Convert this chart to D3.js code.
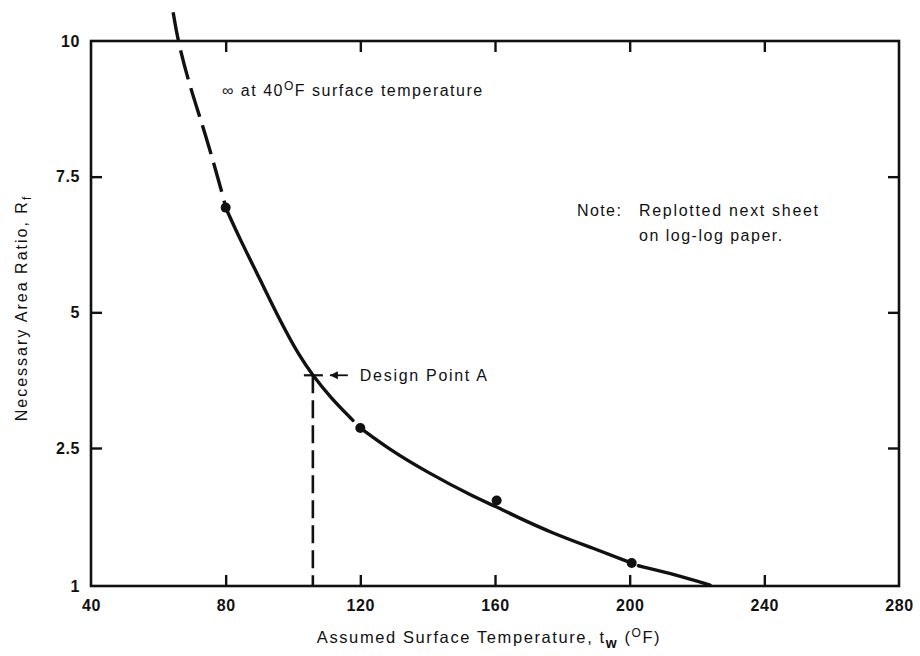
<!DOCTYPE html>
<html>
<head>
<meta charset="utf-8">
<script src="https://cdn.jsdelivr.net/npm/d3@7"></script>
<style>
  body { margin: 0; background: #fff; }
  svg { display: block; }
  text { font-family: "Liberation Sans", Arial, Helvetica, sans-serif; fill: #111; }
</style>
</head>
<body>
<svg id="chart" width="920" height="656"></svg>
<script>
// ---- Data ----
const xTicks = [40, 80, 120, 160, 200, 240, 280];
const yTicks = [1, 2.5, 5, 7.5, 10];
const yTickLabels = ["1", "2.5", "5", "7.5", "10"];

// dashed extrapolation above 80 F
const dashTemps  = [64.4, 65.8, 69.4, 73.9, 79.5, 80];
const dashRatios = [10.53, 10.0, 9.15, 8.31, 7.08, 6.93];

// solid curve, 80 F -> just before 120 F
const curve1Temps  = [80, 84.3, 90.2, 96.1, 102.1, 105.9, 111, 117.8];
const curve1Ratios = [6.93, 6.34, 5.61, 4.85, 4.17, 3.84, 3.44, 3.01];

// solid curve, 120 F -> 200 F
const curve2Temps  = [120, 128.8, 139.7, 153.6, 160.5, 165.4, 177.3, 189.2, 200.6];
const curve2Ratios = [2.87, 2.48, 2.24, 1.97, 1.86, 1.77, 1.57, 1.41, 1.25];

// final segment beyond 200 F
const curve3Temps  = [202.6, 214, 223.9];
const curve3Ratios = [1.22, 1.12, 1.01];

// plotted data points
const pointTemps  = [80, 120, 160.5, 200.6];
const pointRatios = [6.93, 2.87, 1.93, 1.25];

// design point A
const designTemp = 105.9;
const designRatio = 3.84;

// ---- Layout ----
const svg = d3.select("#chart");
const mLeft = 91, mRight = 899, mTop = 41, mBottom = 586;

const x = d3.scaleLinear().domain([40, 280]).range([mLeft, mRight]);
const y = d3.scaleLinear().domain([1, 2.5, 10]).range([mBottom, 448, mTop]);

const ink = "#111";

// frame
svg.append("rect")
  .attr("x", mLeft).attr("y", mTop)
  .attr("width", mRight - mLeft).attr("height", mBottom - mTop)
  .attr("fill", "none").attr("stroke", ink).attr("stroke-width", 2.6);

// axes (ticks pointing inward)
const gx = svg.append("g").attr("transform", `translate(0,${mBottom})`)
  .call(d3.axisBottom(x).tickValues(xTicks).tickSizeInner(-11).tickSizeOuter(0).tickPadding(11).tickFormat(d3.format("d")));
const gxt = svg.append("g").attr("transform", `translate(0,${mTop})`)
  .call(d3.axisTop(x).tickValues(xTicks.slice(1, -1)).tickSizeInner(-11).tickSizeOuter(0).tickFormat(""));
const gy = svg.append("g").attr("transform", `translate(${mLeft},0)`)
  .call(d3.axisLeft(y).tickValues(yTicks).tickSizeInner(-11).tickSizeOuter(0).tickPadding(11)
    .tickFormat((d, i) => yTickLabels[i]));
const gyr = svg.append("g").attr("transform", `translate(${mRight},0)`)
  .call(d3.axisRight(y).tickValues(yTicks.slice(1, -1)).tickSizeInner(-11).tickSizeOuter(0).tickFormat(""));

[gx, gxt, gy, gyr].forEach(g => {
  g.select(".domain").remove();
  g.selectAll(".tick line").attr("stroke", ink).attr("stroke-width", 2.4);
  g.selectAll(".tick text").attr("font-size", 16).attr("font-weight", "bold")
    .attr("letter-spacing", 0.6).style("fill", ink)
    .attr("font-family", '"Liberation Sans", Arial, sans-serif');
});
// hide corner ticks on bottom / left
gx.selectAll(".tick line").filter(d => d === 40 || d === 280).remove();
gy.selectAll(".tick line").filter(d => d === 1 || d === 10).remove();
gx.selectAll(".tick text").attr("dy", "0.85em");

// ---- Curves ----
const zip = (a, b) => a.map((v, i) => [v, b[i]]);
const line = d3.line().x(d => x(d[0])).y(d => y(d[1])).curve(d3.curveBasis);

svg.append("path").datum(zip(dashTemps, dashRatios))
  .attr("d", line)
  .attr("fill", "none").attr("stroke", ink).attr("stroke-width", 3.4)
  .attr("stroke-dasharray", "30,9");

[[curve1Temps, curve1Ratios], [curve2Temps, curve2Ratios], [curve3Temps, curve3Ratios]].forEach(([t, r]) => {
  svg.append("path").datum(zip(t, r))
    .attr("d", line)
    .attr("fill", "none").attr("stroke", ink).attr("stroke-width", 3.4)
    .attr("stroke-linecap", "round");
});

svg.selectAll("circle.pt").data(zip(pointTemps, pointRatios)).join("circle")
  .attr("class", "pt")
  .attr("cx", d => x(d[0])).attr("cy", d => y(d[1])).attr("r", 5)
  .attr("fill", ink);

// design point: vertical dashed drop line, horizontal tick, arrow, label
svg.append("line")
  .attr("x1", x(designTemp)).attr("x2", x(designTemp))
  .attr("y1", y(designRatio)).attr("y2", mBottom)
  .attr("stroke", ink).attr("stroke-width", 2.6).attr("stroke-dasharray", "18,7");
svg.append("line")
  .attr("x1", x(designTemp) - 9).attr("x2", x(designTemp) + 10)
  .attr("y1", y(designRatio)).attr("y2", y(designRatio))
  .attr("stroke", ink).attr("stroke-width", 2.2);
svg.append("line")
  .attr("x1", x(designTemp) + 17).attr("x2", x(designTemp) + 35)
  .attr("y1", y(designRatio)).attr("y2", y(designRatio))
  .attr("stroke", ink).attr("stroke-width", 1.8);
svg.append("path")
  .attr("d", `M${x(designTemp) + 17},${y(designRatio)} l8,-4 l0,8 z`)
  .attr("fill", ink);
svg.append("text")
  .attr("x", x(designTemp) + 47).attr("y", y(designRatio) + 6)
  .attr("font-size", 16).attr("letter-spacing", 1.7)
  .text("Design Point A");

// annotations
const ann = svg.append("text").attr("x", 222).attr("y", 96)
  .attr("font-size", 16).attr("letter-spacing", 1.5);
ann.append("tspan").text("\u221e at 40");
ann.append("tspan").attr("dy", -6).attr("font-size", 12).text("O");
ann.append("tspan").attr("dy", 6).text("F surface temperature");

svg.append("text").attr("x", 577).attr("y", 216)
  .attr("font-size", 16).attr("letter-spacing", 1.4).text("Note:");
svg.append("text").attr("x", 639).attr("y", 216)
  .attr("font-size", 16).attr("letter-spacing", 1.7).text("Replotted next sheet");
svg.append("text").attr("x", 639).attr("y", 241)
  .attr("font-size", 16).attr("letter-spacing", 1.5).text("on log-log paper.");

// axis titles
const xt = svg.append("text").attr("x", 489).attr("y", 643)
  .attr("text-anchor", "middle").attr("font-size", 16.5).attr("letter-spacing", 1.6);
xt.append("tspan").text("Assumed Surface Temperature,  t");
xt.append("tspan").attr("dy", 5).attr("font-size", 14).attr("font-weight", "bold").text("w");
xt.append("tspan").attr("dy", -5).text(" (");
xt.append("tspan").attr("dy", -6).attr("font-size", 12).text("O");
xt.append("tspan").attr("dy", 6).text("F)");

const yt = svg.append("text")
  .attr("transform", "translate(27,308) rotate(-90)")
  .attr("text-anchor", "middle").attr("font-size", 16).attr("letter-spacing", 2);
yt.append("tspan").text("Necessary Area Ratio, R");
yt.append("tspan").attr("dy", 4).attr("font-size", 12).text("f");
</script>
</body>
</html>
